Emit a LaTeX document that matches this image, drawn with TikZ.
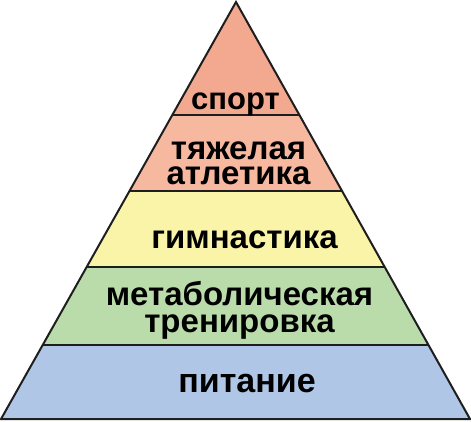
\documentclass[tikz,border=0pt]{standalone}
\usepackage{fontspec}
\setmainfont{Liberation Sans}
\usetikzlibrary{calc}
\definecolor{sportc}{HTML}{F2A98F}
\definecolor{atlc}{HTML}{F7B8A0}
\definecolor{gymc}{HTML}{FAF4A9}
\definecolor{metc}{HTML}{B9DCAA}
\definecolor{pitc}{HTML}{AFC6E6}
\definecolor{linec}{HTML}{1E1E1E}
\tikzset{
  lbl/.style={font=\bfseries\fontsize{33}{26}\selectfont, text=black, inner sep=0pt, align=center, anchor=base},
  bandline/.style={draw=linec, line width=1.6pt},
  outline/.style={draw=linec, line width=2pt, line join=miter}
}
\begin{document}
\begin{tikzpicture}[x=1pt,y=-1pt]
\useasboundingbox (0,0) rectangle (471,421);
\coordinate (A) at (236,2);
\coordinate (L) at (1,419);
\coordinate (R) at (470,419);
\begin{scope}
  \clip (A) -- (L) -- (R) -- cycle;
  \fill[sportc] (0,0) rectangle (471,115);
  \fill[atlc] (0,115) rectangle (471,191);
  \fill[gymc] (0,191) rectangle (471,267);
  \fill[metc] (0,267) rectangle (471,345);
  \fill[pitc] (0,345) rectangle (471,421);
  \draw[bandline] (0,115) -- (471,115);
  \draw[bandline] (0,191) -- (471,191);
  \draw[bandline] (0,267) -- (471,267);
  \draw[bandline] (0,345) -- (471,345);
\end{scope}
\draw[outline] (A) -- (L) -- (R) -- cycle;
\node[lbl, font=\bfseries\fontsize{31}{26}\selectfont] (sport) at (235.5,109) {спорт};
\node[lbl, font=\bfseries\fontsize{33}{25}\selectfont] (atl) at (238.5,184) {тяжелая\\атлетика};
\node[lbl] (gym) at (244.5,248) {гимнастика};
\node[lbl, font=\bfseries\fontsize{33}{27}\selectfont] (met) at (239.5,332) {метаболическая\\тренировка};
\node[lbl, font=\bfseries\fontsize{34}{26}\selectfont] (pit) at (247,392) {питание};
\end{tikzpicture}
\end{document}
